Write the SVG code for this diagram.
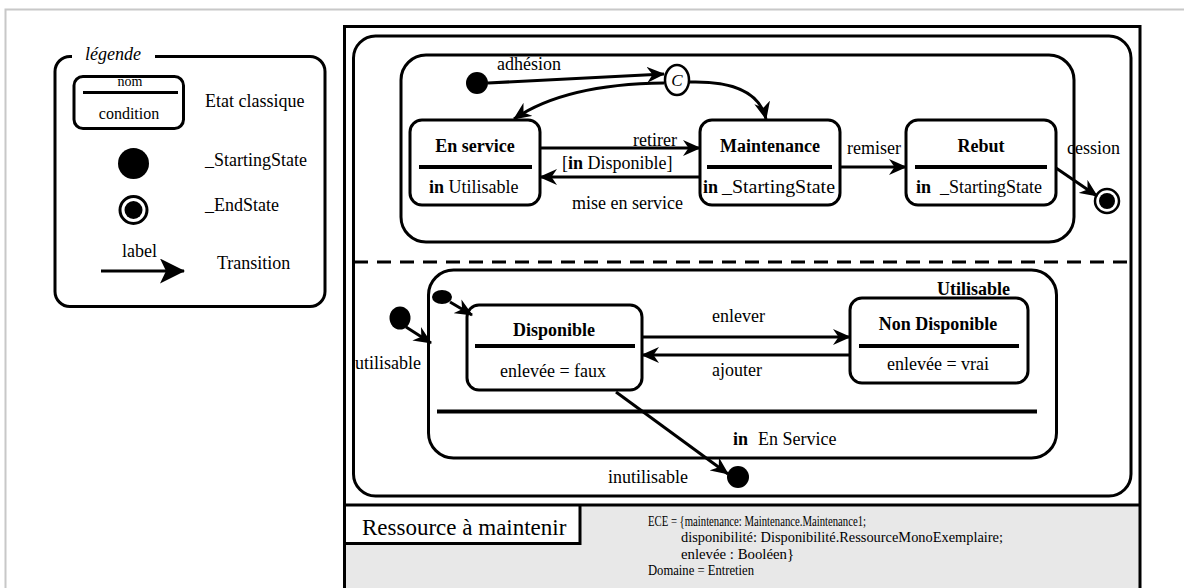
<svg xmlns="http://www.w3.org/2000/svg" width="1184" height="588" viewBox="0 0 1184 588">
  <style>
    text { font-family: "Liberation Serif", "Times New Roman", serif; font-size: 18px; fill: #000; }
    .b { font-weight: bold; }
    .i { font-style: italic; }
    .c { text-anchor: middle; }
    .st { fill: #fff; stroke: #000; stroke-width: 3; }
    .reg { fill: none; stroke: #000; stroke-width: 3; }
    .sep { stroke: #000; stroke-width: 4; }
    .cn { fill: none; stroke: #000; stroke-width: 3; marker-end: url(#ah); }
    .dot { fill: #000; }
    .small { font-size: 14px; }
  </style>
  <defs>
    <marker id="ah" markerUnits="userSpaceOnUse" markerWidth="18" markerHeight="16" refX="17" refY="8" orient="auto" viewBox="0 0 18 16">
      <path d="M0,0 L18,8 L0,16 L5.5,8 Z" fill="#000"/>
    </marker>
    <marker id="ahBig" markerUnits="userSpaceOnUse" markerWidth="25" markerHeight="25" refX="24" refY="12.5" orient="auto" viewBox="0 0 25 25">
      <path d="M0,0 L25,12.5 L0,25 L6,12.5 Z" fill="#000"/>
    </marker>
  </defs>

  <!-- page border -->
  <path d="M5.5,588 V9.5 H1184" fill="none" stroke="#c8c8c8" stroke-width="2"/>

  <!-- legend -->
  <g id="legend">
    <path d="M155,56.5 H310 A15,15 0 0 1 325,71.5 V291.5 A15,15 0 0 1 310,306.5 H70 A15,15 0 0 1 55,291.5 V71.5 A15,15 0 0 1 70,56.5 H72" class="reg"/>
    <text x="85" y="60" class="i">légende</text>
    <rect x="74" y="76.5" width="109.5" height="52" rx="9" class="st"/>
    <line x1="83" y1="92.5" x2="178" y2="92.5" class="reg"/>
    <text x="130" y="86" class="c" style="font-size:14px">nom</text>
    <text x="129" y="119" class="c" style="font-size:16px">condition</text>
    <text x="205" y="107">Etat classique</text>
    <circle cx="133.5" cy="163.5" r="15.5" class="dot"/>
    <text x="205" y="166">_StartingState</text>
    <circle cx="133.5" cy="210" r="13.5" fill="#fff" stroke="#000" stroke-width="3"/>
    <circle cx="133.5" cy="210" r="9" class="dot"/>
    <text x="205" y="211">_EndState</text>
    <path d="M101,271 H184" fill="none" stroke="#000" stroke-width="3" marker-end="url(#ahBig)"/>
    <text x="122" y="257">label</text>
    <text x="217" y="269">Transition</text>
  </g>

  <!-- class frame -->
  <g id="frame">
    <rect x="345" y="505" width="795" height="83" fill="#e8e8e8"/>
    <rect x="345" y="506" width="235" height="37" fill="#fff"/>
    <path d="M344.5,590 V26.5 H1140 V590" class="reg" stroke-width="2.5"/>
    <line x1="344" y1="505" x2="1140" y2="505" class="reg"/>
    <path d="M580,505 V543.5 H344" class="reg"/>
    <text x="362" y="535" style="font-size:23px">Ressource à maintenir</text>
    <text x="648" y="525.5" class="small" textLength="218" lengthAdjust="spacingAndGlyphs">ECE = {maintenance: Maintenance.Maintenance1;</text>
    <text x="681" y="542" class="small" textLength="322" lengthAdjust="spacingAndGlyphs">disponibilité: Disponibilité.RessourceMonoExemplaire;</text>
    <text x="681" y="558.5" class="small" textLength="113" lengthAdjust="spacingAndGlyphs">enlevée : Booléen}</text>
    <text x="648" y="575" class="small" textLength="106" lengthAdjust="spacingAndGlyphs">Domaine = Entretien</text>
  </g>

  <!-- composite state regions -->
  <g id="ressource">
    <rect x="353.5" y="36" width="777.5" height="460" rx="22" class="reg"/>
    <line x1="354" y1="262" x2="1131" y2="262" stroke="#000" stroke-width="3" stroke-dasharray="14 9"/>
  </g>
  <g id="region-maintenance">
    <rect x="401" y="55" width="673" height="187" rx="25" class="reg"/>
  </g>
  <g id="utilisable">
    <rect x="428.5" y="270" width="628" height="188" rx="25" class="reg"/>
    <text x="937" y="295" class="b">Utilisable</text>
    <line x1="437" y1="411.5" x2="1037" y2="411.5" class="sep"/>
    <text x="733" y="445"><tspan class="b">in</tspan><tspan x="758">En Service</tspan></text>
  </g>

  <!-- states -->
  <g id="en-service">
    <rect x="410" y="120" width="130" height="85" rx="12" class="st"/>
    <text x="475" y="152" class="b c">En service</text>
    <line x1="419" y1="167" x2="532" y2="167" class="sep"/>
    <text x="429" y="193"><tspan class="b">in</tspan> Utilisable</text>
  </g>
  <g id="maintenance">
    <rect x="700" y="120" width="140" height="85" rx="12" class="st"/>
    <text x="770" y="152" class="b c">Maintenance</text>
    <line x1="707" y1="167" x2="832" y2="167" class="sep"/>
    <text x="703" y="193"><tspan class="b">in</tspan><tspan x="722" textLength="113" lengthAdjust="spacingAndGlyphs">_StartingState</tspan></text>
  </g>
  <g id="rebut">
    <rect x="906" y="120" width="150" height="85" rx="12" class="st"/>
    <text x="981" y="152" class="b c">Rebut</text>
    <line x1="915" y1="167" x2="1047" y2="167" class="sep"/>
    <text x="916" y="193"><tspan class="b">in</tspan><tspan x="940">_StartingState</tspan></text>
  </g>
  <g id="disponible">
    <rect x="467" y="305" width="175" height="85" rx="12" class="st"/>
    <text x="554" y="336" class="b c">Disponible</text>
    <line x1="475" y1="346" x2="635" y2="346" class="sep"/>
    <text x="553" y="377" class="c">enlevée = faux</text>
  </g>
  <g id="non-disponible">
    <rect x="850" y="298" width="178" height="85" rx="12" class="st"/>
    <text x="938" y="330" class="b c">Non Disponible</text>
    <line x1="859" y1="346" x2="1019" y2="346" class="sep"/>
    <text x="938" y="370" class="c">enlevée = vrai</text>
  </g>

  <!-- pseudo-states -->
  <g id="start-top"><ellipse cx="477" cy="83" rx="11" ry="11" class="dot"/></g>
  <g id="choice">
    <ellipse cx="677" cy="80" rx="12" ry="15" fill="#fff" stroke="#000" stroke-width="2.5"/>
    <text x="677" y="86" class="i c" style="font-size:17px">C</text>
  </g>
  <g id="end-top">
    <circle cx="1107" cy="201" r="12" fill="#fff" stroke="#000" stroke-width="2.5"/>
    <circle cx="1107" cy="201" r="8" class="dot"/>
  </g>
  <g id="start-outer"><ellipse cx="400" cy="318" rx="10.5" ry="11.5" class="dot"/></g>
  <g id="start-inner"><ellipse cx="442" cy="297" rx="10" ry="7" class="dot"/></g>
  <g id="out-point"><circle cx="738" cy="477" r="11" class="dot"/></g>

  <!-- transitions -->
  <g id="connectors">
    <path d="M488,83 L664,74" class="cn"/>
    <path d="M664,83 Q565,84 514,119" class="cn"/>
    <path d="M689,82 Q757,80 766,119" class="cn"/>
    <path d="M540,148 H700" class="cn"/>
    <path d="M700,177 H540" class="cn"/>
    <path d="M840,167 H906" class="cn"/>
    <path d="M1056,168 L1097,196" class="cn"/>
    <path d="M642,337 H850" class="cn"/>
    <path d="M850,355 H642" class="cn"/>
    <path d="M406,327 L431,343" class="cn"/>
    <path d="M450,302 L472,315" class="cn"/>
    <path d="M616,392 L728,474" class="cn"/>
    <text x="497" y="70">adhésion</text>
    <text x="677" y="146" style="text-anchor:end">retirer</text>
    <text x="562" y="169">[<tspan class="b">in</tspan> Disponible]</text>
    <text x="572" y="209">mise en service</text>
    <text x="847" y="154">remiser</text>
    <text x="1067" y="154">cession</text>
    <text x="712" y="322">enlever</text>
    <text x="712" y="376">ajouter</text>
    <text x="355" y="369">utilisable</text>
    <text x="608" y="483">inutilisable</text>
  </g>
</svg>
